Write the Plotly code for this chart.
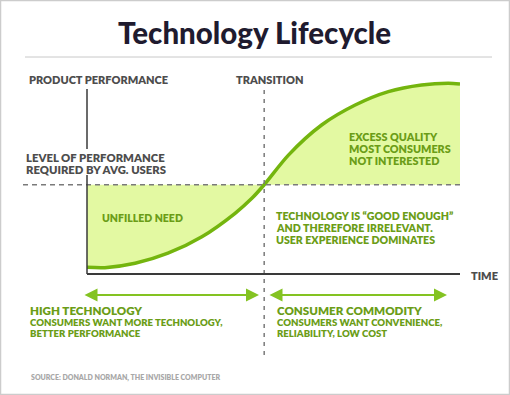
import plotly.graph_objects as go

# ---- data ----
time = [0, 4.8, 12.9, 21.7, 30.8, 39.7, 44.2, 47.5, 54.0, 62.9, 71.9, 80.8, 89.7, 96.9, 100]
performance = [3.45, 3.25, 5.5, 10.7, 19.2, 31.3, 39.0, 46.0, 61.3, 76.8, 87.1, 94.0, 97.4, 98.3, 97.9]
required_level = 46.0
transition_time = 47.5
time_range = [0, 100]
perf_range = [0, 100]

title = "Technology Lifecycle"
y_label = "PRODUCT PERFORMANCE"
transition_label = "TRANSITION"
level_label = ["LEVEL OF PERFORMANCE", "REQUIRED BY AVG. USERS"]
excess_label = ["EXCESS QUALITY", "MOST CONSUMERS", "NOT INTERESTED"]
unfilled_label = ["UNFILLED NEED"]
good_label = ["TECHNOLOGY IS \u201cGOOD ENOUGH\u201d", "AND THEREFORE IRRELEVANT.", "USER EXPERIENCE DOMINATES"]
x_label = "TIME"
left_head = "HIGH TECHNOLOGY"
left_sub = ["CONSUMERS WANT MORE TECHNOLOGY,", "BETTER PERFORMANCE"]
right_head = "CONSUMER COMMODITY"
right_sub = ["CONSUMERS WANT CONVENIENCE,", "RELIABILITY, LOW COST"]
source = "SOURCE: DONALD NORMAN, THE INVISIBLE COMPUTER"

# ---- layout geometry ----
WIDTH, HEIGHT = 510, 395
L, R, T, B = 87, 50, 80, 121
PW = WIDTH - L - R
PH = HEIGHT - T - B

def px(xp):
    return (xp - L) / PW

def py(yp):
    return (T + PH - yp) / PH

FONT = "Lato"
GREEN_LINE = "#74b50e"
GREEN_FILL = "#e3f9a2"
GREEN_TEXT = "#6b9d17"
GREEN_ARROW = "#84c322"
GRAY_TEXT = "#4d4d4d"

fig = go.Figure()
fig.add_trace(go.Scatter(x=time_range, y=[required_level, required_level], mode="lines",
                         line=dict(width=0, color="rgba(0,0,0,0)"), hoverinfo="skip", showlegend=False))
fig.add_trace(go.Scatter(x=time, y=performance, mode="lines", fill="tonexty", fillcolor=GREEN_FILL,
                         line=dict(color=GREEN_LINE, width=3.5, shape="spline", smoothing=0.8),
                         showlegend=False, hoverinfo="skip"))

shapes = []
shapes.append(dict(type="rect", xref="paper", yref="paper", x0=px(0.5), x1=px(509.5), y0=py(394.5), y1=py(0.5),
                   line=dict(color="#cccccc", width=1.5), fillcolor="rgba(0,0,0,0)", layer="below"))
shapes.append(dict(type="line", xref="paper", yref="paper", x0=px(25), x1=px(492), y0=py(57), y1=py(57),
                   line=dict(color="#c8c8c8", width=1)))
shapes.append(dict(type="line", xref="paper", yref="y", x0=px(23), x1=1, y0=required_level, y1=required_level,
                   line=dict(color="#7a7a7a", width=1.5, dash="5px,4px")))
shapes.append(dict(type="line", xref="x", yref="paper", x0=transition_time, x1=transition_time, y0=py(355), y1=py(90),
                   line=dict(color="#7a7a7a", width=1.5, dash="4px,5px")))
shapes.append(dict(type="line", xref="paper", yref="paper", x0=0, x1=0, y0=py(149), y1=py(89),
                   line=dict(color="#3a3a3a", width=1.5)))
shapes.append(dict(type="line", xref="paper", yref="paper", x0=0, x1=0, y0=0, y1=py(175),
                   line=dict(color="#3a3a3a", width=1.5)))
shapes.append(dict(type="line", xref="paper", yref="paper", x0=0, x1=1, y0=0, y1=0,
                   line=dict(color="#3a3a3a", width=2)))

annotations = []

def text(s, x, y, size, color, anchor="left", weight=800):
    annotations.append(dict(text=s, xref="paper", yref="paper",
                            x=px(x), y=py(y), xanchor=anchor, yanchor="middle", showarrow=False,
                            borderpad=0,
                            font=dict(family=FONT, size=size, color=color, weight=weight)))

def lines(arr, x, y0, dy, size, color):
    for i, s in enumerate(arr):
        text(s, x, y0 + i * dy, size, color)

text(title, 254, 33, 29.5, "#1f1b2f", anchor="center", weight=900)
text(y_label, 28, 79, 11, GRAY_TEXT)
text(transition_label, 235, 79, 11, GRAY_TEXT)
lines(level_label, 25, 157, 12, 11.3, GRAY_TEXT)
lines(excess_label, 348, 136.5, 12, 10.8, GREEN_TEXT)
lines(unfilled_label, 101, 218, 12, 10.5, GREEN_TEXT)
lines(good_label, 275, 216, 12, 10.6, GREEN_TEXT)
text(x_label, 470, 275, 11, GRAY_TEXT)
text(left_head, 29, 310, 11.6, GREEN_TEXT)
lines(left_sub, 29, 322, 11.5, 9.6, GREEN_TEXT)
text(right_head, 276, 310, 11.6, GREEN_TEXT)
lines(right_sub, 276, 322, 11.5, 9.6, GREEN_TEXT)
text(source, 30, 377, 7, "#a8a8a8")

for x_tail, x_head in [(83, 259), (268, 447)]:
    annotations.append(dict(text="", xref="paper", yref="paper", x=px(x_head), y=py(295),
                            ax=x_tail - x_head, ay=0, axref="pixel", ayref="pixel",
                            showarrow=True, arrowside="end+start", arrowhead=2, startarrowhead=2,
                            arrowsize=1.3, startarrowsize=1.3, arrowwidth=2, arrowcolor=GREEN_ARROW,
                            standoff=0, startstandoff=0))

fig.update_layout(
    width=WIDTH, height=HEIGHT,
    margin=dict(l=L, r=R, t=T, b=B),
    paper_bgcolor="white", plot_bgcolor="white",
    xaxis=dict(range=time_range, visible=False, fixedrange=True),
    yaxis=dict(range=perf_range, visible=False, fixedrange=True),
    shapes=shapes, annotations=annotations, showlegend=False,
)

fig.write_html("out.html", config={"displayModeBar": False},
               post_script="document.body.style.margin='0';document.body.style.overflow='hidden';")
